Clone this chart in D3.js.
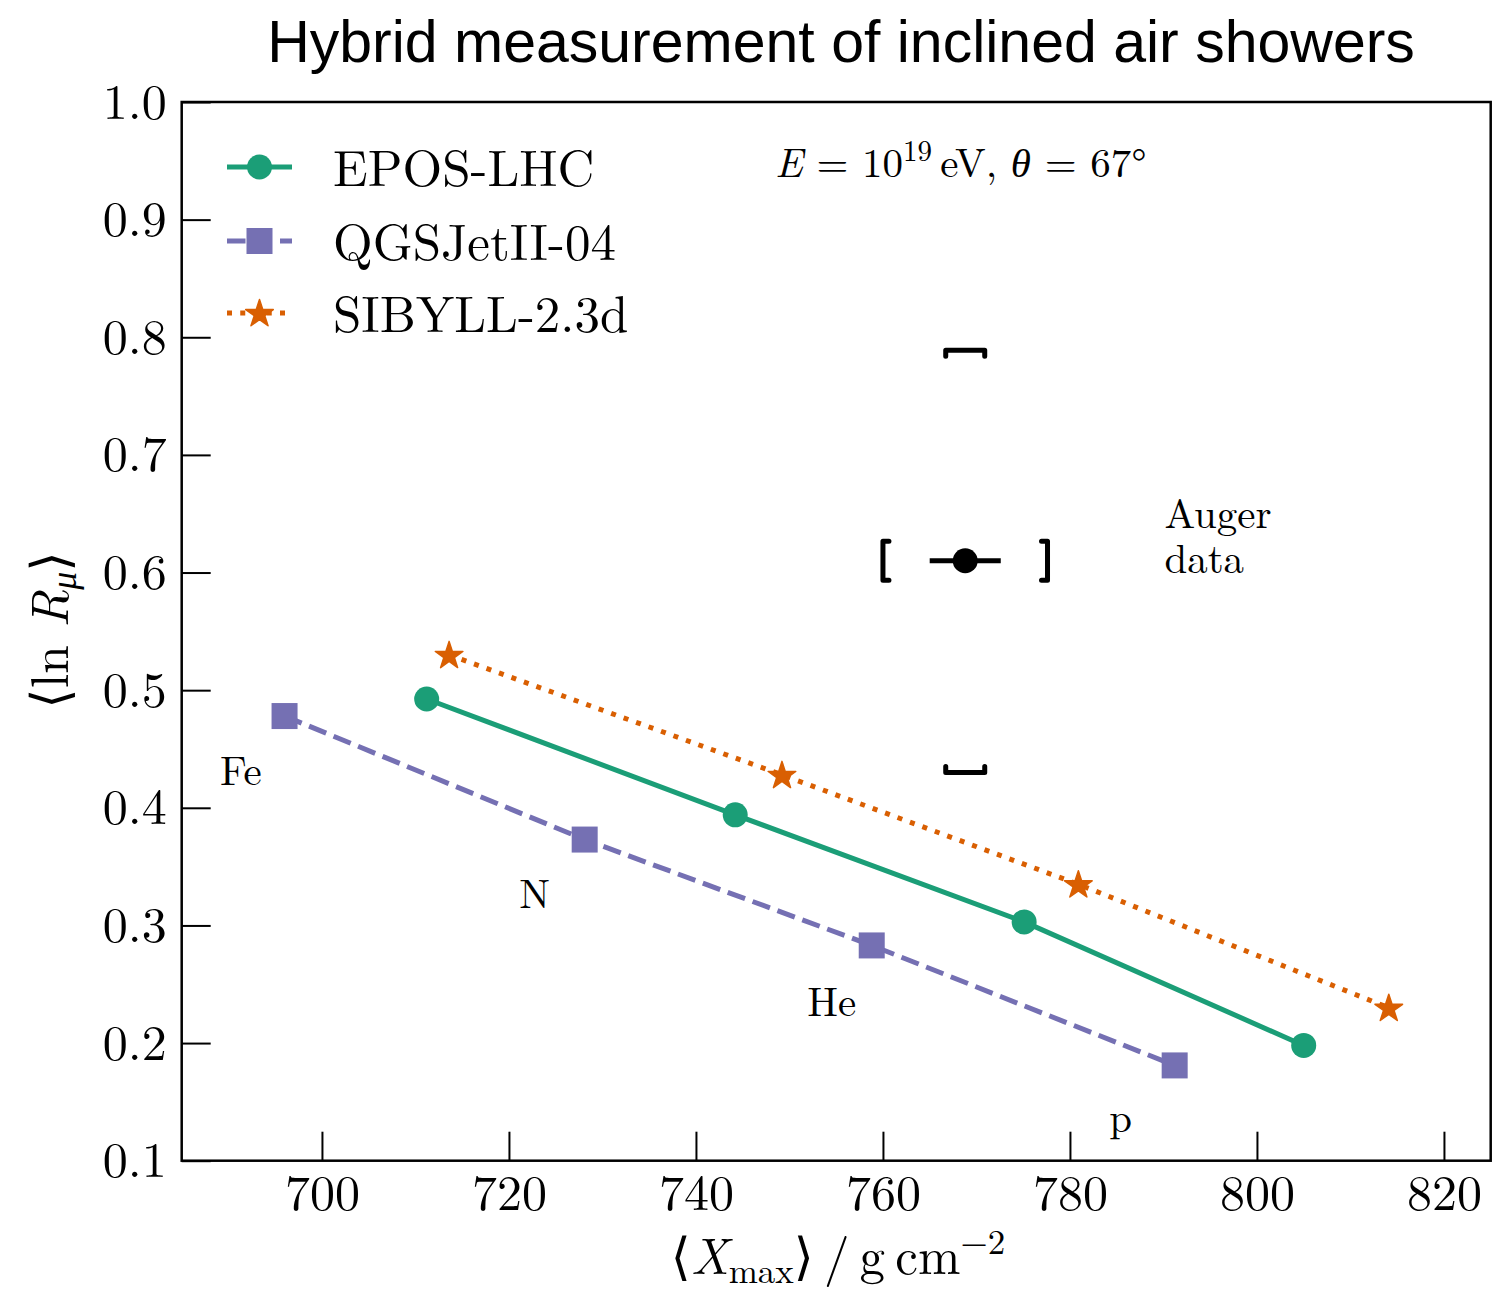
<!DOCTYPE html>
<html><head><meta charset="utf-8">
<script src="https://cdn.jsdelivr.net/npm/d3@7"></script>
<style>body{margin:0;background:#fff}svg{display:block}</style>
</head><body><svg id="c" width="1492" height="1292"></svg>
<script>
// ---- data ----
const seriesNames = ["EPOS-LHC", "QGSJetII-04", "SIBYLL-2.3d"];
const eposX = [711.2, 744.2, 775.1, 805.0];
const eposY = [0.4925, 0.394, 0.303, 0.198];
const qgsX = [696.0, 728.1, 758.8, 791.2];
const qgsY = [0.478, 0.373, 0.283, 0.181];
const sibX = [713.6, 749.2, 780.9, 814.1];
const sibY = [0.530, 0.428, 0.335, 0.230];
const augerX = 768.8, augerY = 0.610;
const augerStatX = 3.8;
const augerSysX = 8.8;
const augerSysYUp = 0.179, augerSysYDown = 0.180;
const primaryNames = ["Fe", "N", "He", "p"];
const primaryX = [689.1, 721.1, 751.9, 784.2];
const primaryY = [0.419, 0.315, 0.223, 0.124];
const xTicks = [700, 720, 740, 760, 780, 800, 820];
const yTicks = [0.1, 0.2, 0.3, 0.4, 0.5, 0.6, 0.7, 0.8, 0.9, 1.0];

// ---- layout ----
const L = 181.7, R = 1490.7, T = 102, B = 1160.7;
const serif = "'Latin Modern Roman','CMU Serif','Liberation Serif','DejaVu Serif',serif";
const colors = ["#1b9e77", "#7570b3", "#d95f02"];
const lw = 5;

const svg = d3.select("#c");
const x = d3.scaleLinear().domain([685, 825]).range([L, R]);
const y = d3.scaleLinear().domain([0.1, 1.0]).range([B, T]);

// axes
const xa = svg.append("g").attr("transform", `translate(0,${B})`)
  .call(d3.axisBottom(x).tickValues(xTicks).tickSizeInner(-29).tickSizeOuter(0).tickPadding(14).tickFormat(d3.format("d")));
const ya = svg.append("g").attr("transform", `translate(${L},0)`)
  .call(d3.axisLeft(y).tickValues(yTicks).tickSizeInner(-29).tickSizeOuter(0).tickPadding(15).tickFormat(d3.format(".1f")));
[xa, ya].forEach(g => {
  g.select(".domain").remove();
  g.selectAll(".tick line").attr("stroke", "#000").attr("stroke-width", 2);
  g.selectAll(".tick text").attr("font-family", serif).attr("font-size", 50).attr("fill", "#000");
});
// spines
svg.append("rect").attr("x", L).attr("y", T).attr("width", R - L).attr("height", B - T)
  .attr("fill", "none").attr("stroke", "#000").attr("stroke-width", 2.5);

// star path
function starPath(R0) {
  const r0 = R0 * 0.381966;
  let p = [];
  for (let i = 0; i < 10; i++) {
    const a = -Math.PI / 2 + i * Math.PI / 5;
    const rr = i % 2 === 0 ? R0 : r0;
    p.push([rr * Math.cos(a), rr * Math.sin(a)]);
  }
  return "M" + p.map(q => q.join(",")).join("L") + "Z";
}
function drawMarker(g, kind, cx, cy, color) {
  if (kind === 0) g.append("circle").attr("cx", cx).attr("cy", cy).attr("r", 12.5).attr("fill", color);
  else if (kind === 1) g.append("rect").attr("x", cx - 13).attr("y", cy - 13).attr("width", 26).attr("height", 26).attr("fill", color);
  else g.append("path").attr("d", starPath(14.5)).attr("transform", `translate(${cx},${cy + 1})`).attr("fill", color)
    .attr("stroke", color).attr("stroke-width", 1.5).attr("stroke-linejoin", "round");
}
const dashes = [null, "18.5,8", "5,8.25"];

const series = [[eposX, eposY], [qgsX, qgsY], [sibX, sibY]];
const line = d3.line().x(d => x(d[0])).y(d => y(d[1]));
series.forEach((s, i) => {
  const pts = s[0].map((v, j) => [v, s[1][j]]);
  const g = svg.append("g");
  g.append("path").attr("d", line(pts)).attr("fill", "none").attr("stroke", colors[i])
    .attr("stroke-width", lw).attr("stroke-dasharray", dashes[i]);
  pts.forEach(p => drawMarker(g, i, x(p[0]), y(p[1]), colors[i]));
});

// Auger data point
const ag = svg.append("g");
const ax = x(augerX), ay = y(augerY);
ag.append("line").attr("x1", x(augerX - augerStatX)).attr("x2", x(augerX + augerStatX))
  .attr("y1", ay).attr("y2", ay).attr("stroke", "#000").attr("stroke-width", lw);
ag.append("circle").attr("cx", ax).attr("cy", ay).attr("r", 12.5).attr("fill", "#000");
const bw = 19.5, leg = 6, bh = 19.5;
const yTop = y(augerY + augerSysYUp), yBot = y(augerY - augerSysYDown);
const xLft = x(augerX - augerSysX), xRgt = x(augerX + augerSysX);
const br = [
  `M${ax - bw},${yTop + leg}L${ax - bw},${yTop}L${ax + bw},${yTop}L${ax + bw},${yTop + leg}`,
  `M${ax - bw},${yBot - leg}L${ax - bw},${yBot}L${ax + bw},${yBot}L${ax + bw},${yBot - leg}`,
  `M${xLft + leg},${ay - bh}L${xLft},${ay - bh}L${xLft},${ay + bh}L${xLft + leg},${ay + bh}`,
  `M${xRgt - leg},${ay - bh}L${xRgt},${ay - bh}L${xRgt},${ay + bh}L${xRgt - leg},${ay + bh}`
];
br.forEach(d => ag.append("path").attr("d", d).attr("fill", "none").attr("stroke", "#000")
  .attr("stroke-width", lw).attr("stroke-linejoin", "round").attr("stroke-linecap", "round"));

// primary labels
primaryNames.forEach((n, i) => {
  svg.append("text").attr("x", x(primaryX[i])).attr("y", y(primaryY[i]))
    .attr("font-family", serif).attr("font-size", 41).text(n);
});
const augerText = svg.append("text").attr("x", x(790.1)).attr("y", y(0.638)).attr("font-family", serif).attr("font-size", 41);
augerText.append("tspan").attr("x", x(790.1)).text("Auger");
augerText.append("tspan").attr("x", x(790.1)).attr("dy", 45).text("data");

// legend
const legY = [167, 241, 313];
seriesNames.forEach((n, i) => {
  const g = svg.append("g");
  g.append("line").attr("x1", 227).attr("x2", 292).attr("y1", legY[i]).attr("y2", legY[i])
    .attr("stroke", colors[i]).attr("stroke-width", lw).attr("stroke-dasharray", dashes[i]);
  drawMarker(g, i, 259.5, legY[i], colors[i]);
  g.append("text").attr("x", 333).attr("y", legY[i] + 19).attr("font-family", serif)
    .attr("font-size", 51).text(n);
});

// energy/angle annotation
const et = svg.append("text").attr("x", 775).attr("y", 177).attr("font-family", serif).attr("font-size", 41);
et.append("tspan").attr("font-style", "italic").text("E");
et.append("tspan").text(" = 10");
et.append("tspan").attr("font-size", 29).attr("dy", -16).text("19");
et.append("tspan").attr("dy", 16).text("\u2009eV, ");
et.append("tspan").attr("font-style", "italic").attr("font-weight", "normal").text("θ");
et.append("tspan").text(" = 67°");

// title
svg.append("text").attr("x", 841).attr("y", 62).attr("text-anchor", "middle")
  .attr("font-family", "'Liberation Sans',Arial,Helvetica,sans-serif").attr("font-size", 59)
  .text("Hybrid measurement of inclined air showers");

// x label
const xl = svg.append("text").attr("x", 838).attr("y", 1274).attr("text-anchor", "middle")
  .attr("font-family", serif).attr("font-size", 51);
xl.append("tspan").text("⟨");
xl.append("tspan").attr("font-style", "italic").text("X");
xl.append("tspan").attr("font-size", 35).attr("dy", 9).text("max");
xl.append("tspan").attr("dy", -9).text("⟩\u2009/\u2009g\u2009cm");
xl.append("tspan").attr("font-size", 35).attr("dy", -20).text("−2");

// y label
const yl = svg.append("text").attr("transform", "translate(68,630) rotate(-90)").attr("text-anchor", "middle")
  .attr("font-family", serif).attr("font-size", 52);
yl.append("tspan").text("⟨ln ");
yl.append("tspan").attr("font-style", "italic").text("R");
yl.append("tspan").attr("font-style", "italic").attr("font-size", 36).attr("dy", 8).text("μ");
yl.append("tspan").attr("dy", -8).text("⟩");
</script></body></html>
